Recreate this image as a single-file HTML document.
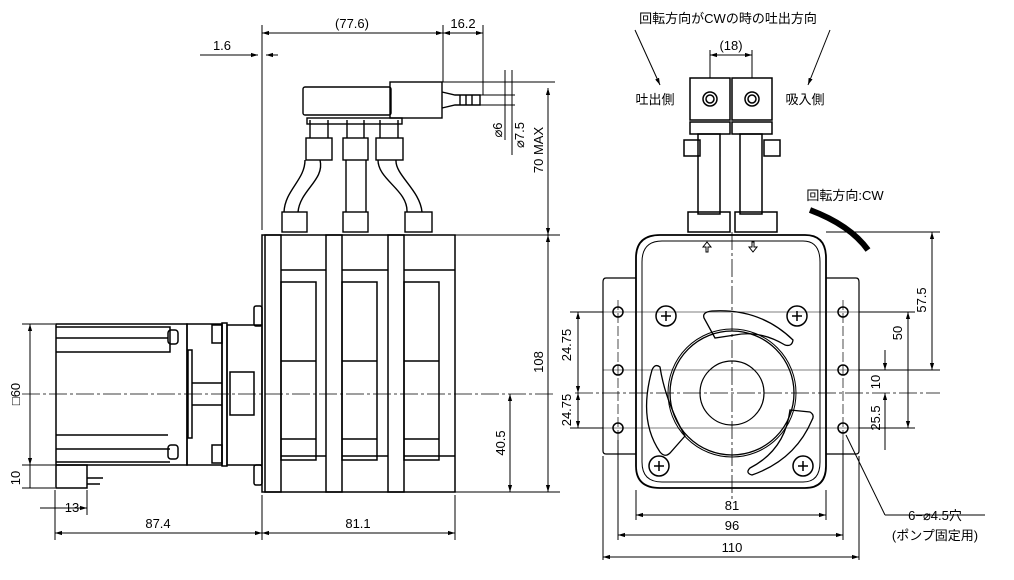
<!DOCTYPE html>
<html><head><meta charset="utf-8"><style>
html,body{margin:0;padding:0;background:#fff;}
svg{display:block;font-family:"Liberation Sans","Noto Sans CJK JP",sans-serif;}
text{font-size:13px;fill:#000;}
</style></head><body>
<svg width="1014" height="580" viewBox="0 0 1014 580" xmlns="http://www.w3.org/2000/svg">
<defs>
<marker id="a" viewBox="0 0 10 10" refX="10" refY="5" markerWidth="7" markerHeight="7" orient="auto-start-reverse"><path d="M0,2 L10,5 L0,8z" fill="#000"/></marker>
</defs>
<g stroke="#000" fill="none" stroke-width="1">
<!-- ===== LEFT VIEW ===== -->
<g stroke-width="1.5">
<rect x="56" y="324" width="131" height="141"/>
<path d="M56 327H170V352H56M56 338H168M56 435H168M56 449H170M56 462H170"/>
<rect x="168" y="330" width="10" height="14" rx="3"/><rect x="168" y="445" width="10" height="14" rx="3"/>
<rect x="56" y="465" width="31" height="23"/>
<path d="M87 478H103M87 484H100"/>
<rect x="187" y="324" width="35" height="141"/>
<rect x="188" y="350" width="4" height="88"/>
<rect x="222" y="323" width="5" height="143"/>
<rect x="212" y="325" width="10" height="18"/><rect x="212" y="445" width="10" height="18"/>
<rect x="227" y="325" width="35" height="140"/>
<rect x="230" y="372" width="24" height="43"/>
<path d="M192 383H222M192 405H222"/>
<rect x="254" y="306" width="8" height="20" rx="2"/><rect x="254" y="465" width="8" height="20" rx="2"/>
</g>
<line x1="22" y1="394" x2="555" y2="394" stroke-dasharray="18,3,3,3" stroke-width="0.8"/>
<!-- pump heads -->
<g stroke-width="1.5">
<rect x="262" y="235" width="193" height="257"/>
<rect x="265" y="235" width="16" height="257"/>
<rect x="326" y="235" width="16" height="257"/>
<rect x="388" y="235" width="16" height="257"/>
<path d="M281 270H326M342 270H388M404 270H455M281 456H326M342 456H388M404 456H455"/>
<rect x="281" y="282" width="35" height="178"/><rect x="342" y="282" width="35" height="178"/><rect x="404" y="282" width="35" height="178"/>
<path d="M281 361H316M342 361H377M404 361H439M281 439H316M342 439H377M404 439H439"/>
</g>
<!-- tubes -->
<g stroke-width="1.4">
<path d="M305 160 C305 180 285 190 284 212 M320 160 C325 180 300 190 298 212"/>
<path d="M346 160 L346 212 M366 160 L366 212"/>
<path d="M378 160 C378 180 408 190 407 212 M396 160 C395 175 420 190 422 212"/>
<rect x="282" y="212" width="25" height="20"/><rect x="343" y="212" width="25" height="20"/><rect x="405" y="212" width="27" height="20"/>
<rect x="306" y="138" width="26" height="22"/><rect x="343" y="138" width="25" height="22"/><rect x="376" y="138" width="27" height="22"/>
<path d="M310 120V138M328 120V138M347 120V138M364 120V138M380 120V138M398 120V138"/>
<rect x="307" y="118" width="95" height="6"/>
<rect x="303" y="87" width="88" height="28" rx="2"/>
<rect x="390" y="82" width="52" height="36"/>
<path d="M442 92L455 95H480V105H455L442 108"/>
<path d="M460 95V105M466 95V105M472 95V105"/>
</g>
<!-- dims left view -->
<line x1="30" y1="324" x2="30" y2="465" marker-start="url(#a)" marker-end="url(#a)"/>
<line x1="22" y1="324" x2="55" y2="324"/><line x1="22" y1="465" x2="55" y2="465"/><line x1="22" y1="488" x2="55" y2="488"/>
<line x1="30" y1="465" x2="30" y2="488"/>
<line x1="55" y1="490" x2="55" y2="540"/><line x1="87" y1="490" x2="87" y2="515"/>
<line x1="40" y1="508" x2="87" y2="508" marker-end="url(#a)"/>
<line x1="262" y1="495" x2="262" y2="540"/><line x1="455" y1="495" x2="455" y2="540"/>
<line x1="55" y1="533" x2="262" y2="533" marker-start="url(#a)" marker-end="url(#a)"/>
<line x1="262" y1="533" x2="455" y2="533" marker-start="url(#a)" marker-end="url(#a)"/>
<line x1="262" y1="25" x2="262" y2="230"/><line x1="443" y1="25" x2="443" y2="82"/><line x1="483" y1="25" x2="483" y2="95"/>
<line x1="262" y1="33" x2="443" y2="33" marker-start="url(#a)" marker-end="url(#a)"/>
<line x1="443" y1="33" x2="483" y2="33" marker-start="url(#a)" marker-end="url(#a)"/>
<line x1="200" y1="55" x2="258" y2="55" marker-end="url(#a)"/>
<line x1="278" y1="55" x2="266" y2="55" marker-end="url(#a)"/>
<line x1="455" y1="235" x2="560" y2="235"/><line x1="455" y1="492" x2="560" y2="492"/>
<line x1="548" y1="88" x2="548" y2="235" marker-start="url(#a)" marker-end="url(#a)"/>
<line x1="548" y1="235" x2="548" y2="492" marker-start="url(#a)" marker-end="url(#a)"/>
<line x1="510" y1="394" x2="510" y2="492" marker-start="url(#a)" marker-end="url(#a)"/>
<line x1="442" y1="82" x2="555" y2="82"/>
<line x1="480" y1="95" x2="515" y2="95"/><line x1="480" y1="105" x2="515" y2="105"/>
<line x1="505" y1="70" x2="505" y2="140"/><line x1="512" y1="70" x2="512" y2="155"/>
</g>
<g>
<text x="20" y="394" transform="rotate(-90 20 394)" text-anchor="middle">□60</text>
<text x="20" y="478" transform="rotate(-90 20 478)" text-anchor="middle">10</text>
<text x="72" y="512" text-anchor="middle">13</text>
<text x="158" y="528" text-anchor="middle">87.4</text>
<text x="358" y="528" text-anchor="middle">81.1</text>
<text x="352" y="28" text-anchor="middle">(77.6)</text>
<text x="463" y="28" text-anchor="middle">16.2</text>
<text x="222" y="50" text-anchor="middle">1.6</text>
<text x="543" y="150" transform="rotate(-90 543 150)" text-anchor="middle">70 MAX</text>
<text x="543" y="362" transform="rotate(-90 543 362)" text-anchor="middle">108</text>
<text x="505" y="443" transform="rotate(-90 505 443)" text-anchor="middle">40.5</text>
<text x="502" y="130" transform="rotate(-90 502 130)" text-anchor="middle">⌀6</text>
<text x="524" y="135" transform="rotate(-90 524 135)" text-anchor="middle">⌀7.5</text>
</g>
<!-- ===== RIGHT VIEW ===== -->
<g stroke="#000" fill="none" stroke-width="1">
<path d="M636 278H606Q603 278 603 282V451Q603 454 606 454H636M826 278H856Q859 278 859 282V451Q859 454 856 454H826" stroke-width="1.2"/>
<path d="M636 258Q636 235 660 235L805 235Q826 235 826 258L826 466Q826 488 805 488L660 488Q636 488 636 466Z" stroke-width="1.8" fill="#fff"/>
<path d="M642 262Q642 241 662 241L803 241Q820 241 820 262L820 462Q820 482 803 482L662 482Q642 482 642 462Z"/>
<line x1="732" y1="232" x2="732" y2="500" stroke-dasharray="18,3,3,3" stroke-width="0.8"/>
<line x1="575" y1="393" x2="940" y2="393" stroke-dasharray="18,3,3,3" stroke-width="0.8"/>
<line x1="603" y1="312" x2="860" y2="312" stroke-width="0.6"/>
<line x1="603" y1="370" x2="860" y2="370" stroke-width="0.6"/>
<line x1="603" y1="428" x2="860" y2="428" stroke-width="0.6"/>
<line x1="618" y1="300" x2="618" y2="440" stroke-dasharray="10,3" stroke-width="0.7"/>
<line x1="843" y1="300" x2="843" y2="440" stroke-dasharray="10,3" stroke-width="0.7"/>
<circle cx="732" cy="393" r="62" stroke-width="1.3"/><circle cx="732" cy="393" r="64"/>
<circle cx="732" cy="393" r="32" stroke-width="1.2"/>
<path d="M715 338 L704 318 Q702 312 712 311 Q760 308 793 340 Q792 347 785 345 Q760 330 735 335 Z" stroke-width="1.3"/>
<path d="M685 436 L670 453 Q665 458 660 452 Q638 420 652 370 Q655 363 660 367 Q665 400 685 436 Z" stroke-width="1.3"/>
<path d="M790 410 L810 412 Q815 415 812 420 Q795 460 752 475 Q745 473 750 468 Q785 450 790 410 Z" stroke-width="1.3"/>
<g stroke-width="1.5">
<circle cx="618" cy="312" r="5"/><circle cx="618" cy="370" r="5"/><circle cx="618" cy="428" r="5"/>
<circle cx="843" cy="312" r="5"/><circle cx="843" cy="370" r="5"/><circle cx="843" cy="428" r="5"/>
</g>
<g stroke-width="1.5">
<circle cx="666" cy="316" r="10"/><path d="M661 316h10M666 311v10"/>
<circle cx="797" cy="316" r="10"/><path d="M792 316h10M797 311v10"/>
<circle cx="659" cy="466" r="10"/><path d="M654 466h10M659 461v10"/>
<circle cx="803" cy="466" r="10"/><path d="M798 466h10M803 461v10"/>
</g>
<path d="M706 252v-5h-3l4-5 4 5h-3v5z M752 242v5h-3l4 5 4-5h-3v-5z" stroke-width="1"/>
<!-- fittings/tubes -->
<g stroke-width="1.5">
<rect x="690" y="78" width="40" height="42"/><rect x="732" y="78" width="40" height="42"/>
<circle cx="710" cy="99" r="7"/><circle cx="710" cy="99" r="4"/>
<circle cx="752" cy="99" r="7"/><circle cx="752" cy="99" r="4"/>
<rect x="690" y="122" width="40" height="12"/><rect x="732" y="122" width="40" height="12"/>
<rect x="684" y="140" width="16" height="16"/><rect x="764" y="140" width="16" height="16"/>
<rect x="698" y="134" width="22" height="80"/><rect x="740" y="134" width="22" height="80"/>
<rect x="688" y="212" width="42" height="20"/><rect x="735" y="212" width="42" height="20"/>
</g>
<path d="M810 210 Q850 225 868 250" stroke-width="6"/>
<!-- dims right -->
<line x1="603" y1="456" x2="603" y2="560"/><line x1="859" y1="456" x2="859" y2="560"/>
<line x1="636" y1="490" x2="636" y2="520"/><line x1="826" y1="490" x2="826" y2="520"/>
<line x1="618" y1="440" x2="618" y2="540"/><line x1="843" y1="440" x2="843" y2="540"/>
<line x1="636" y1="515" x2="826" y2="515" marker-start="url(#a)" marker-end="url(#a)"/>
<line x1="618" y1="535" x2="843" y2="535" marker-start="url(#a)" marker-end="url(#a)"/>
<line x1="603" y1="557" x2="859" y2="557" marker-start="url(#a)" marker-end="url(#a)"/>
<line x1="578" y1="312" x2="578" y2="393" marker-start="url(#a)" marker-end="url(#a)"/>
<line x1="578" y1="393" x2="578" y2="428" marker-start="url(#a)" marker-end="url(#a)"/>
<line x1="570" y1="312" x2="603" y2="312"/><line x1="570" y1="428" x2="603" y2="428"/>
<line x1="826" y1="232" x2="940" y2="232"/><line x1="859" y1="312" x2="915" y2="312"/>
<line x1="859" y1="370" x2="940" y2="370"/><line x1="859" y1="428" x2="915" y2="428"/>
<line x1="932" y1="232" x2="932" y2="370" marker-start="url(#a)" marker-end="url(#a)"/>
<line x1="908" y1="312" x2="908" y2="428" marker-start="url(#a)" marker-end="url(#a)"/>
<line x1="885" y1="350" x2="885" y2="370" marker-end="url(#a)"/>
<line x1="885" y1="415" x2="885" y2="393" marker-end="url(#a)"/>
<line x1="885" y1="393" x2="885" y2="450"/>
<line x1="710" y1="55" x2="752" y2="55" marker-start="url(#a)" marker-end="url(#a)"/>
<line x1="710" y1="50" x2="710" y2="78"/><line x1="752" y1="50" x2="752" y2="78"/>
<line x1="635" y1="30" x2="660" y2="85" marker-end="url(#a)"/>
<line x1="830" y1="30" x2="808" y2="85" marker-end="url(#a)"/>
<line x1="846" y1="435" x2="885" y2="515"/><line x1="885" y1="515" x2="985" y2="515"/>
</g>
<g>
<text x="728" y="23" text-anchor="middle">回転方向がCWの時の吐出方向</text>
<text x="731" y="50" text-anchor="middle">(18)</text>
<text x="655" y="104" text-anchor="middle">吐出側</text>
<text x="805" y="104" text-anchor="middle">吸入側</text>
<text x="845" y="200" text-anchor="middle">回転方向:CW</text>
<text x="571" y="345" transform="rotate(-90 571 345)" text-anchor="middle">24.75</text>
<text x="571" y="410" transform="rotate(-90 571 410)" text-anchor="middle">24.75</text>
<text x="926" y="300" transform="rotate(-90 926 300)" text-anchor="middle">57.5</text>
<text x="902" y="333" transform="rotate(-90 902 333)" text-anchor="middle">50</text>
<text x="880" y="382" transform="rotate(-90 880 382)" text-anchor="middle">10</text>
<text x="880" y="418" transform="rotate(-90 880 418)" text-anchor="middle">25.5</text>
<text x="732" y="510" text-anchor="middle">81</text>
<text x="732" y="530" text-anchor="middle">96</text>
<text x="732" y="552" text-anchor="middle">110</text>
<text x="935" y="520" text-anchor="middle">6−⌀4.5穴</text>
<text x="935" y="540" text-anchor="middle">(ポンプ固定用)</text>
</g>
</svg>
</body></html>
